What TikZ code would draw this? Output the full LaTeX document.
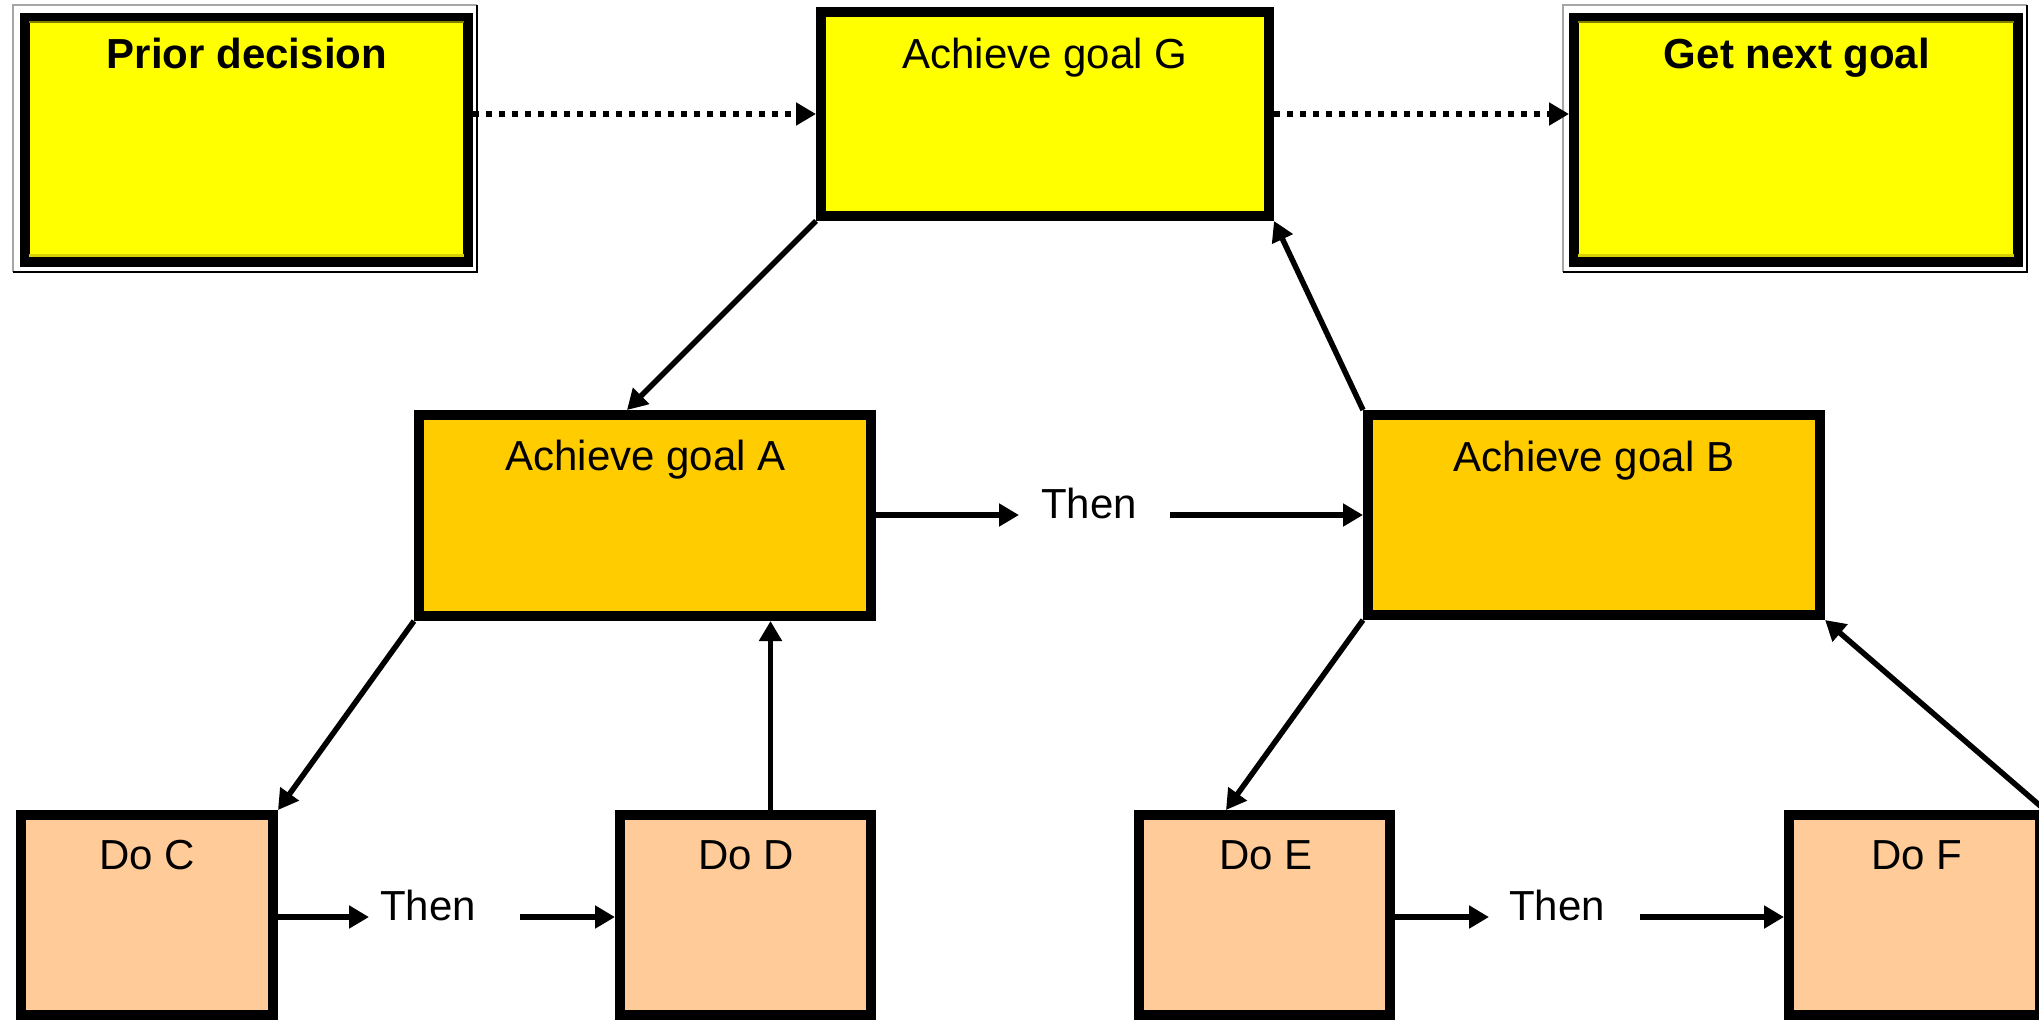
\documentclass[tikz,border=0pt]{standalone}
\usepackage{fontspec}
\setmainfont{Liberation Sans}
\usetikzlibrary{arrows.meta,calc}
\definecolor{goalY}{HTML}{FFFF00}
\definecolor{goalO}{HTML}{FFCC00}
\definecolor{doP}{HTML}{FFCC99}
\definecolor{bevelTop}{HTML}{808000}
\definecolor{bevelBot}{HTML}{D8D000}
\begin{document}
\begin{tikzpicture}[x=1pt,y=-1pt,
  box/.style={draw=black, line width=10pt, inner sep=0pt, rectangle},
  lbl/.style={font=\fontsize{42}{50}\selectfont, inner sep=0pt, anchor=base},
  arr/.style={line width=5.5pt, -{Triangle[length=20pt,width=22pt]}},
  dotarr/.style={line width=6pt, dash pattern=on 6pt off 7pt, -{Triangle[length=20pt,width=22pt]}},
  frameLight/.style={draw=gray!70, line width=2.5pt},
  frameDark/.style={draw=black, line width=2.5pt},
]
\useasboundingbox (0,0) rectangle (2039,1021);

% outer 3D frames of the two side boxes
\draw[frameLight] (13,272) -- (13,5) -- (477,5);
\draw[frameDark] (477,5) -- (477,272) -- (13,272);
\draw[frameLight] (1563,272) -- (1563,5) -- (2027,5);
\draw[frameDark] (2027,5) -- (2027,272) -- (1563,272);

% boxes
\node[box, fill=goalY, minimum width=443pt, minimum height=244pt] (P) at (246.5,140) {};
\node[box, fill=goalY, minimum width=448pt, minimum height=204pt] (G) at (1045,114) {};
\node[box, fill=goalY, minimum width=444pt, minimum height=244pt] (N) at (1796,140) {};
\node[box, fill=goalO, minimum width=452pt, minimum height=201pt] (A) at (645,515.5) {};
\node[box, fill=goalO, minimum width=452pt, minimum height=200pt] (B) at (1594,515) {};
\node[box, fill=doP, minimum width=252pt, minimum height=200pt] (C) at (147,915) {};
\node[box, fill=doP, minimum width=251pt, minimum height=200pt] (D) at (745.5,915) {};
\node[box, fill=doP, minimum width=251pt, minimum height=200pt] (E) at (1264.5,915) {};
\node[box, fill=doP, minimum width=251pt, minimum height=200pt] (F) at (1914.5,915) {};

% inner bevels of the side boxes
\draw[bevelTop, line width=2pt] (29,22) -- (464,22);
\draw[bevelBot, line width=3pt] (29,255) -- (464,255);
\draw[bevelTop, line width=2pt] (1578,22) -- (2014,22);
\draw[bevelBot, line width=3pt] (1578,255) -- (2014,255);

% box texts
\node[lbl] (tP) at (247,68) {\textbf{Prior decision}};
\node[lbl] (tG) at (1045,68) {Achieve goal G};
\node[lbl] (tN) at (1797,68) {\textbf{Get next goal}};
\node[lbl] (tA) at (645.5,470) {Achieve goal A};
\node[lbl] (tB) at (1594,471) {Achieve goal B};
\node[lbl] (tC) at (147,869) {Do C};
\node[lbl] (tD) at (746,869) {Do D};
\node[lbl] (tE) at (1266,869) {Do E};
\node[lbl] (tF) at (1917,869) {Do F};

% "Then" labels
\node[lbl] (th1) at (1089,518) {Then};
\node[lbl] (th2) at (428,920) {Then};
\node[lbl] (th3) at (1557,920) {Then};
\coordinate (th1in) at (1019,515);
\coordinate (th1out) at (1170,515);
\coordinate (th2in) at (369,917);
\coordinate (th2out) at (520,917);
\coordinate (th3in) at (1489,917);
\coordinate (th3out) at (1640,917);

% dotted arrows
\draw[dotarr] (P.east |- G.west) -- (G.west);
\draw[dotarr] (G.east) -- (G.east -| N.west);

% tree arrows
\draw[arr] (G.south west) -- ([xshift=213pt]A.north west);
\draw[arr] (B.north west) -- (G.south east);
\draw[arr] (A.south west) -- (C.north east);
\draw[arr] ([xshift=25pt]D.north) -- ([xshift=25pt]D.north |- A.south);
\draw[arr] (B.south west) -- ([xshift=92pt]E.north west);
\draw[arr] (F.north east) -- (B.south east);

% sequence arrows
\draw[arr] (A.east |- th1in) -- (th1in);
\draw[arr] (th1out) -- (th1out -| B.west);
\draw[arr] (C.east |- th2in) -- (th2in);
\draw[arr] (th2out) -- (th2out -| D.west);
\draw[arr] (E.east |- th3in) -- (th3in);
\draw[arr] (th3out) -- (th3out -| F.west);
\end{tikzpicture}
\end{document}
